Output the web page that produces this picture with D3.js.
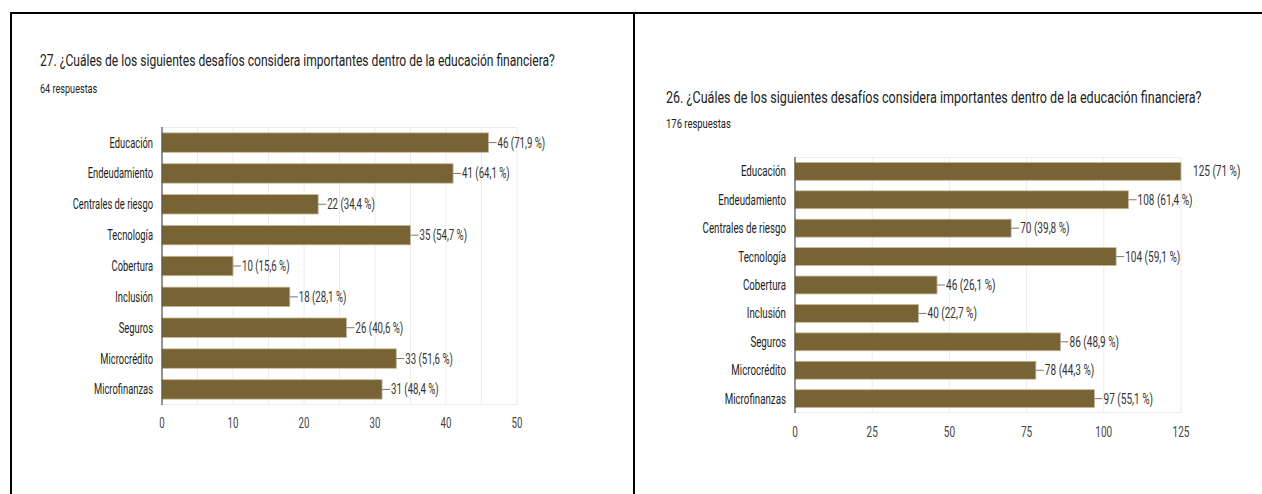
<!DOCTYPE html>
<html>
<head>
<meta charset="utf-8">
<script src="https://cdn.jsdelivr.net/npm/d3@7"></script>
<style>
  html, body { margin: 0; padding: 0; background: #fff; }
  svg { display: block; }
  text { font-family: Roboto, "Noto Sans", Arial, sans-serif; }
</style>
</head>
<body>
<svg id="page" width="1262" height="494"></svg>
<script>
// Answer options shared by both survey questions
const categories = ["Educación", "Endeudamiento", "Centrales de riesgo", "Tecnología",
  "Cobertura", "Inclusión", "Seguros", "Microcrédito", "Microfinanzas"];

// Question 27 (64 responses)
const titleQ27 = "27. ¿Cuáles de los siguientes desafíos considera importantes dentro de la educación financiera?";
const subtitleQ27 = "64 respuestas";
const countsQ27 = [46, 41, 22, 35, 10, 18, 26, 33, 31];
const percentQ27 = ["71,9", "64,1", "34,4", "54,7", "15,6", "28,1", "40,6", "51,6", "48,4"];
const ticksQ27 = [0, 10, 20, 30, 40, 50];
const gridQ27 = [0, 5, 10, 15, 20, 25, 30, 35, 40, 45, 50];

// Question 26 (176 responses)
const titleQ26 = "26. ¿Cuáles de los siguientes desafíos considera importantes dentro de la educación financiera?";
const subtitleQ26 = "176 respuestas";
const countsQ26 = [125, 108, 70, 104, 46, 40, 86, 78, 97];
const percentQ26 = ["71", "61,4", "39,8", "59,1", "26,1", "22,7", "48,9", "44,3", "55,1"];
const ticksQ26 = [0, 25, 50, 75, 100, 125];
const gridQ26 = [0, 25, 50, 75, 100, 125];

const svg = d3.select("#page");
const BAR = "#786334";

function label(g, x, y, str, opts) {
  return g.append("text")
    .attr("transform", `translate(${x},${y}) scale(${opts.sx},1)`)
    .attr("text-anchor", opts.anchor || "start")
    .attr("font-size", opts.size)
    .attr("fill", opts.fill || "#333")
    .text(str);
}

// table frame around the two panels
const frame = svg.append("g").attr("stroke", "#000").attr("fill", "none");
frame.append("line").attr("x1", 10).attr("x2", 1262).attr("y1", 13).attr("y2", 13).attr("stroke-width", 2);
frame.append("line").attr("x1", 11).attr("x2", 11).attr("y1", 12).attr("y2", 494).attr("stroke-width", 2);
frame.append("line").attr("x1", 634).attr("x2", 634).attr("y1", 12).attr("y2", 494).attr("stroke-width", 2);

function drawChart(cfg) {
  const g = svg.append("g");
  const k = cfg.widen; // horizontal text stretch for this panel
  label(g, cfg.titleX, cfg.titleY, cfg.title, { size: 17, sx: 0.71 * k, fill: "#202124" });
  label(g, cfg.titleX, cfg.subY, cfg.subtitle, { size: 13, sx: 0.7 * k, fill: "#202124" });

  const x = d3.scaleLinear().domain([0, d3.max(cfg.ticks)]).range([cfg.left, cfg.right]);
  const y = d3.scaleBand().domain(categories).range([cfg.top, cfg.bottom])
    .paddingInner(0.37).paddingOuter(0.19);

  // gridlines and plot frame
  g.append("g").selectAll("line").data(cfg.grid).join("line")
    .attr("x1", d => x(d)).attr("x2", d => x(d))
    .attr("y1", cfg.top).attr("y2", cfg.bottom)
    .attr("stroke", "#ececec").attr("stroke-width", 1);
  g.append("line").attr("x1", cfg.left).attr("x2", cfg.right)
    .attr("y1", cfg.top + 0.5).attr("y2", cfg.top + 0.5).attr("stroke", "#ececec");
  g.append("line").attr("x1", cfg.left).attr("x2", cfg.right)
    .attr("y1", cfg.bottom - 0.5).attr("y2", cfg.bottom - 0.5).attr("stroke", "#ececec");

  // bars
  g.append("g").selectAll("rect").data(cfg.counts).join("rect")
    .attr("x", x(0))
    .attr("y", (d, i) => y(categories[i]))
    .attr("width", d => x(d) - x(0))
    .attr("height", y.bandwidth())
    .attr("fill", BAR)
    .attr("stroke", "#c9bb98").attr("stroke-width", 0.8);

  // value labels with leader lines
  cfg.counts.forEach((d, i) => {
    const cy = y(categories[i]) + y.bandwidth() / 2;
    const atMax = d === d3.max(cfg.ticks);
    if (!atMax) {
      g.append("line").attr("x1", x(d)).attr("x2", x(d) + 8)
        .attr("y1", cy).attr("y2", cy).attr("stroke", "#777").attr("stroke-width", 1);
    }
    label(g, x(d) + (atMax ? 12 : 9), cy + 5, `${d} (${cfg.percent[i]} %)`,
      { size: 14, sx: 0.69 * k, fill: "#333" });
  });

  // category axis
  g.append("line").attr("x1", cfg.left).attr("x2", cfg.left)
    .attr("y1", cfg.top).attr("y2", cfg.bottom).attr("stroke", "#333").attr("stroke-width", 1);
  categories.forEach(c => {
    label(g, cfg.left - 9, y(c) + y.bandwidth() / 2 + 5, c,
      { anchor: "end", size: 14, sx: 0.67 * k, fill: "#222" });
  });

  // value axis tick labels
  cfg.ticks.forEach(t => {
    label(g, x(t), cfg.tickY, String(t), { anchor: "middle", size: 14, sx: 0.69 * k, fill: "#444" });
  });
}

drawChart({
  title: titleQ27, subtitle: subtitleQ27, counts: countsQ27, percent: percentQ27,
  ticks: ticksQ27, grid: gridQ27, widen: 1,
  titleX: 40, titleY: 66, subY: 93,
  left: 162, right: 517, top: 127, bottom: 405, tickY: 428
});

drawChart({
  title: titleQ26, subtitle: subtitleQ26, counts: countsQ26, percent: percentQ26,
  ticks: ticksQ26, grid: gridQ26, widen: 1.04,
  titleX: 666, titleY: 103, subY: 128,
  left: 795, right: 1181, top: 157, bottom: 413, tickY: 437
});
</script>
</body>
</html>
